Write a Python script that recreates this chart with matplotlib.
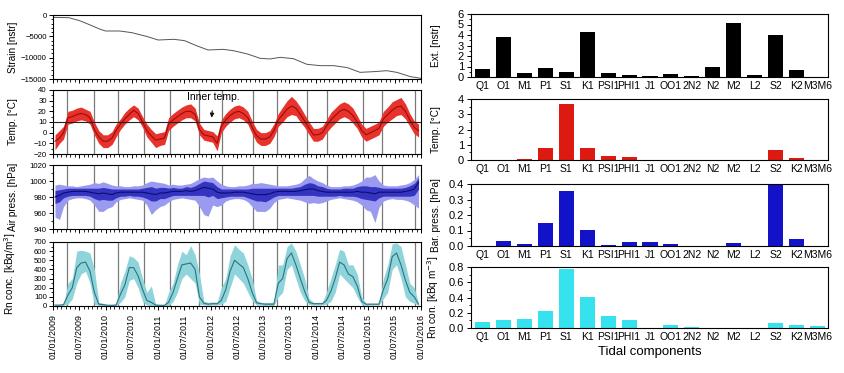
import numpy as np
import pandas as pd
import matplotlib
matplotlib.use("Agg")
import matplotlib.pyplot as plt
import matplotlib.dates as mdates
from matplotlib.ticker import MultipleLocator, FormatStrFormatter

plt.rcParams['font.family'] = ['Liberation Sans', 'DejaVu Sans']

# ---------------- data: left time series ----------------
strain_t = [2009.0, 2009.3, 2009.5, 2009.7, 2009.9, 2010.0, 2010.27, 2010.5, 2010.8, 2011.0,
            2011.3, 2011.5, 2011.73, 2011.95, 2012.24, 2012.43, 2012.7, 2012.94, 2013.13, 2013.32,
            2013.57, 2013.83, 2014.08, 2014.34, 2014.6, 2014.84, 2015.1, 2015.35, 2015.54, 2015.8, 2016.0]
strain_v = [-550, -630, -1300, -2300, -3360, -3750, -3750, -4140, -5080, -5860,
            -5700, -6000, -7190, -8200, -8050, -8360, -9140, -10160, -10300, -9920,
            -10230, -11560, -11870, -11870, -12340, -13440, -13280, -13050, -13440, -14450, -14840]

temp_mean = [-8, -5, 0, 14, 15, 17, 18, 17, 14, 3, -4, -8,
             -8, -5, 2, 8, 13, 17, 21, 18, 10, 2, -3, -7,
             -6, -5, 8, 12, 15, 18, 20, 20, 17, 3, -2, -3,
             -4, -10, 6, 12, 16, 19, 20, 18, 14, 5, -3, -6,
             -6, -4, 2, 12, 17, 22, 25, 23, 17, 11, 4, -2,
             -2, 0, 6, 12, 16, 20, 22, 20, 16, 10, 2, -2,
             0, 2, 4, 13, 17, 21, 24, 25, 20, 12, 5, 2]
temp_lo = [-16, -10, -6, 8, 9, 11, 12, 11, 8, -2, -10, -14,
           -14, -11, -4, 3, 8, 12, 15, 12, 5, -4, -9, -14,
           -12, -11, 2, 6, 9, 12, 14, 14, 11, -2, -7, -8,
           -9, -17, 0, 6, 10, 13, 14, 12, 8, -1, -9, -12,
           -12, -10, -4, 6, 10, 15, 17, 16, 10, 5, -2, -8,
           -8, -6, 0, 5, 9, 13, 15, 13, 9, 4, -4, -8,
           -6, -4, -2, 6, 10, 13, 16, 17, 13, 6, -1, -4]
temp_hi = [-2, 2, 6, 20, 21, 23, 24, 22, 20, 10, 2, -2,
           -2, 1, 8, 13, 19, 23, 26, 23, 15, 8, 3, -1,
           0, 1, 14, 18, 21, 24, 26, 27, 23, 9, 3, 2,
           1, -3, 12, 18, 22, 25, 26, 24, 20, 11, 3, 0,
           0, 2, 8, 18, 24, 30, 34, 30, 24, 17, 10, 4,
           4, 6, 12, 19, 23, 27, 29, 27, 23, 16, 8, 4,
           6, 8, 10, 20, 24, 29, 31, 33, 27, 18, 11, 8]

press_mean = [980, 982, 985, 986, 987, 987, 987, 987, 986, 985, 984, 985,
              984, 983, 985, 986, 986, 986, 986, 986, 986, 985, 984, 983,
              985, 985, 986, 987, 987, 987, 988, 987, 988, 990, 992, 991,
              990, 986, 985, 985, 985, 986, 986, 986, 985, 984, 983, 983,
              983, 984, 986, 987, 987, 987, 987, 987, 988, 989, 990, 990,
              988, 987, 986, 986, 986, 986, 986, 986, 986, 987, 986, 986,
              985, 984, 986, 986, 986, 986, 986, 986, 987, 988, 990, 998]
# extreme spikes (monthly min / max)
press_lo = [955, 952, 968, 976, 978, 979, 979, 978, 976, 970, 962, 962,
            966, 968, 974, 977, 978, 979, 978, 977, 976, 970, 958, 964,
            968, 970, 974, 977, 978, 979, 978, 977, 976, 968, 958, 956,
            970, 968, 970, 975, 977, 978, 978, 977, 974, 968, 962, 962,
            962, 966, 973, 977, 978, 979, 978, 977, 976, 974, 972, 973,
            972, 973, 975, 977, 978, 979, 978, 977, 976, 974, 970, 964,
            962, 948, 967, 975, 977, 978, 977, 977, 976, 974, 970, 966]
press_hi = [995, 996, 995, 994, 994, 993, 994, 995, 996, 998, 997, 999,
            997, 995, 994, 994, 993, 993, 994, 994, 995, 998, 1000, 999,
            998, 997, 995, 996, 995, 995, 996, 997, 1000, 1003, 1005, 1004,
            1005, 1000, 996, 994, 993, 993, 994, 994, 995, 997, 997, 998,
            997, 996, 995, 994, 994, 994, 995, 996, 998, 1003, 1007, 1003,
            1000, 998, 995, 993, 993, 993, 994, 994, 995, 997, 1000, 1005,
            1005, 1008, 1000, 995, 994, 994, 994, 995, 996, 998, 1002, 1008]
# dense core of the trace (monthly)
press_core_lo = [972, 974, 979, 981, 982, 982, 982, 982, 981, 978, 976, 977,
                 976, 976, 979, 981, 981, 982, 981, 981, 980, 978, 975, 975,
                 978, 978, 980, 982, 982, 982, 982, 982, 982, 982, 982, 980,
                 982, 978, 979, 980, 981, 981, 981, 981, 979, 977, 975, 975,
                 974, 977, 980, 982, 982, 982, 982, 982, 982, 982, 982, 982,
                 981, 981, 981, 981, 981, 982, 981, 981, 981, 980, 978, 977,
                 976, 975, 979, 981, 981, 981, 981, 981, 981, 981, 982, 990]
press_core_hi = [988, 989, 990, 991, 991, 991, 991, 991, 991, 991, 991, 992,
                 991, 990, 990, 990, 990, 990, 990, 990, 991, 992, 993, 991,
                 992, 992, 991, 992, 991, 991, 993, 992, 994, 997, 1000, 999,
                 998, 993, 990, 990, 990, 990, 990, 990, 990, 991, 991, 991,
                 991, 991, 991, 991, 991, 991, 991, 992, 993, 996, 998, 997,
                 994, 993, 991, 990, 990, 990, 991, 991, 991, 993, 994, 994,
                 993, 993, 992, 991, 991, 991, 991, 991, 992, 994, 997, 1004]

rn_mean = [10, 10, 15, 120, 200, 420, 470, 480, 380, 150, 20, 15,
           8, 8, 10, 130, 230, 420, 420, 330, 180, 60, 40, 10,
           8, 8, 40, 150, 300, 450, 460, 470, 400, 100, 30, 20,
           25, 25, 60, 180, 380, 500, 460, 420, 300, 150, 35, 25,
           20, 20, 20, 250, 300, 520, 580, 450, 300, 160, 40, 25,
           25, 25, 60, 160, 300, 480, 450, 350, 320, 220, 50, 20,
           20, 20, 20, 180, 300, 540, 580, 450, 280, 150, 100, 20]
rn_lo = [5, 5, 8, 20, 80, 250, 350, 380, 250, 20, 5, 5,
         3, 3, 5, 40, 100, 280, 300, 200, 50, 10, 5, 3,
         3, 3, 5, 50, 150, 300, 350, 300, 250, 20, 10, 8,
         10, 10, 20, 50, 200, 350, 300, 250, 150, 60, 10, 10,
         5, 5, 5, 100, 150, 400, 450, 300, 150, 60, 15, 10,
         10, 10, 20, 50, 150, 350, 300, 250, 200, 100, 15, 5,
         10, 10, 10, 80, 150, 400, 450, 300, 100, 50, 30, 10]
rn_hi = [15, 15, 20, 250, 300, 600, 610, 600, 580, 400, 40, 30,
         15, 15, 25, 250, 380, 550, 530, 480, 300, 150, 220, 20,
         15, 15, 150, 250, 450, 600, 560, 660, 560, 350, 50, 40,
         45, 40, 200, 300, 550, 670, 620, 580, 450, 300, 60, 40,
         40, 40, 40, 450, 450, 650, 690, 600, 450, 300, 80, 40,
         40, 40, 150, 300, 450, 620, 600, 450, 450, 350, 100, 30,
         30, 30, 30, 300, 450, 680, 690, 650, 450, 250, 200, 30]

season_lines = ['2009-04-08', '2009-10-14', '2010-03-30', '2010-09-26', '2011-03-24',
                '2011-10-13', '2012-03-21', '2012-10-23', '2013-04-04', '2013-11-02',
                '2014-03-16', '2014-11-21', '2015-04-07', '2015-11-20']

# ---------------- data: right bar charts ----------------
tidal = ['Q1', 'O1', 'M1', 'P1', 'S1', 'K1', 'PSI1', 'PHI1', 'J1', 'OO1', '2N2',
         'N2', 'M2', 'L2', 'S2', 'K2', 'M3M6']
ext_amp = [0.77, 3.8, 0.38, 0.9, 0.45, 4.3, 0.38, 0.19, 0.13, 0.26, 0.13,
           0.96, 5.14, 0.16, 3.96, 0.67, 0.02]
temp_amp = [0.01, 0.01, 0.06, 0.77, 3.65, 0.77, 0.24, 0.17, 0.03, 0.01, 0.01,
            0.01, 0.03, 0.01, 0.66, 0.11, 0.01]
press_amp = [0.002, 0.032, 0.013, 0.146, 0.355, 0.103, 0.006, 0.028, 0.028, 0.013, 0.001,
             0.001, 0.022, 0.001, 0.41, 0.043, 0.001]
rn_amp = [0.075, 0.10, 0.12, 0.22, 0.77, 0.41, 0.155, 0.10, 0.005, 0.035, 0.008,
          0.003, 0.003, 0.003, 0.062, 0.04, 0.025]

# ---------------- figure ----------------
W, H = 844, 373
fig = plt.figure(figsize=(W / 100, H / 100), dpi=100)

def ax_px(x0, y0, x1, y1):
    return fig.add_axes([x0 / W, 1 - y1 / H, (x1 - x0) / W, (y1 - y0) / H])

months = pd.date_range('2009-01-01', periods=84, freq='MS') + pd.Timedelta(days=14)

def dec2date(y):
    yr = int(np.floor(y))
    frac = y - yr
    start = pd.Timestamp(f'{yr}-01-01')
    end = pd.Timestamp(f'{yr + 1}-01-01')
    return start + (end - start) * frac

strain_dates = [dec2date(v) for v in strain_t]

tick_fs = 5.6
lab_fs = 7.2

left_boxes = [(53, 15, 421, 79), (53, 90, 421, 154), (53, 165, 421, 229), (53, 242, 421, 306)]
axL = [ax_px(*b) for b in left_boxes]

xmin, xmax = pd.Timestamp('2009-01-01'), pd.Timestamp('2016-01-01')
for i, ax in enumerate(axL):
    ax.set_xlim(xmin, xmax)
    ax.xaxis.set_major_locator(mdates.MonthLocator(bymonth=[1, 7]))
    ax.xaxis.set_minor_locator(mdates.MonthLocator())
    ax.xaxis.set_major_formatter(mdates.DateFormatter('%d/%m/%Y'))
    ax.tick_params(axis='both', which='major', labelsize=tick_fs, length=3, width=0.7,
                   direction='out', pad=1.5)
    ax.tick_params(axis='both', which='minor', length=1.8, width=0.6, direction='out')
    ax.tick_params(axis='x', labelsize=6.4, pad=3)
    for s in ax.spines.values():
        s.set_linewidth(0.8)
    if i < 3:
        ax.tick_params(axis='x', labelbottom=False)
    else:
        plt.setp(ax.get_xticklabels(), rotation=90)
    if i > 0:
        for d in season_lines:
            ax.axvline(pd.Timestamp(d), color='#7a7a7a', lw=0.9, zorder=1)

# Strain
ax = axL[0]
ax.plot(strain_dates, strain_v, color='#555555', lw=0.7)
ax.set_ylim(-15000, 0)
ax.yaxis.set_major_locator(MultipleLocator(5000))
ax.yaxis.set_minor_locator(MultipleLocator(1000))
ax.set_ylabel('Strain [nstr]', fontsize=lab_fs)

# Temperature
ax = axL[1]
ax.fill_between(months, temp_lo, temp_hi, color='#e8322c', lw=0, zorder=2)
ax.plot(months, temp_mean, color='#9a0c0c', lw=0.8, zorder=3)
ax.axhline(10, color='#222222', lw=0.8, zorder=4)
ax.set_ylim(-20, 40)
ax.yaxis.set_major_locator(MultipleLocator(10))
ax.yaxis.set_minor_locator(MultipleLocator(5))
ax.set_ylabel('Temp. [°C]', fontsize=lab_fs)
ax.annotate('Inner temp.', xy=(pd.Timestamp('2012-01-08'), 14), xytext=(pd.Timestamp('2012-01-20'), 33),
            fontsize=7.5, ha='center', va='center',
            arrowprops=dict(arrowstyle='-|>', color='#111111', lw=0.8, mutation_scale=6,
                            shrinkA=4, shrinkB=0), zorder=5)

# Air pressure
ax = axL[2]
ax.fill_between(months, press_lo, press_hi, color='#9a9af0', lw=0, zorder=2)
ax.fill_between(months, press_core_lo, press_core_hi, color='#3434c0', lw=0, zorder=3)
ax.plot(months, press_mean, color='#0c0c70', lw=0.8, zorder=4)
ax.set_ylim(940, 1020)
ax.yaxis.set_major_locator(MultipleLocator(20))
ax.yaxis.set_minor_locator(MultipleLocator(10))
ax.set_ylabel('Air press. [hPa]', fontsize=lab_fs)

# Rn concentration
ax = axL[3]
ax.fill_between(months, rn_lo, rn_hi, color='#8fd4da', lw=0, zorder=2)
ax.plot(months, rn_mean, color='#2e7480', lw=0.8, zorder=3)
ax.set_ylim(0, 700)
ax.yaxis.set_major_locator(MultipleLocator(100))
ax.yaxis.set_minor_locator(MultipleLocator(50))
ax.set_ylabel('Rn conc. [kBq/m$^3$]', fontsize=lab_fs)

for ax in axL:
    ax.yaxis.set_label_coords(-0.095, 0.5)

# ---------------- right bar panels ----------------
right_boxes = [(471, 14, 828, 77), (471, 99, 828, 160), (471, 184, 828, 246), (471, 267, 828, 328)]
axR = [ax_px(*b) for b in right_boxes]
xpos = np.arange(len(tidal))
specs = [
    (ext_amp, '#000000', (0, 6), 1, 0.5, 'Ext. [nstr]', '%d'),
    (temp_amp, '#dd1a12', (0, 4), 1, 0.5, 'Temp. [°C]', '%d'),
    (press_amp, '#1212c8', (0, 0.4), 0.1, 0.05, 'Bar. press. [hPa]', '%.1f'),
    (rn_amp, '#36e2ee', (0, 0.8), 0.2, 0.1, 'Rn con. [kBq m$^{-3}$]', '%.1f'),
]
for ax, (vals, col, yl, maj, mnr, lab, fmt) in zip(axR, specs):
    ax.bar(xpos, vals, width=0.72, color=col, edgecolor='none')
    ax.set_xlim(-0.55, len(tidal) - 0.5)
    ax.set_ylim(*yl)
    ax.set_xticks(xpos)
    ax.set_xticklabels(tidal, fontsize=7.5)
    ax.tick_params(axis='x', length=0, pad=3)
    ax.yaxis.set_major_locator(MultipleLocator(maj))
    ax.yaxis.set_minor_locator(MultipleLocator(mnr))
    ax.yaxis.set_major_formatter(FormatStrFormatter(fmt))
    ax.tick_params(axis='y', which='major', labelsize=8, length=3, width=0.7, direction='out', pad=2)
    ax.tick_params(axis='y', which='minor', length=1.8, width=0.6, direction='out')
    for s in ax.spines.values():
        s.set_linewidth(0.8)
    ax.set_ylabel(lab, fontsize=lab_fs)
    ax.yaxis.set_label_coords(-0.085, 0.5)

axR[3].set_xlabel('Tidal components', fontsize=9.5, labelpad=3)

fig.savefig('out.png', dpi=100)
